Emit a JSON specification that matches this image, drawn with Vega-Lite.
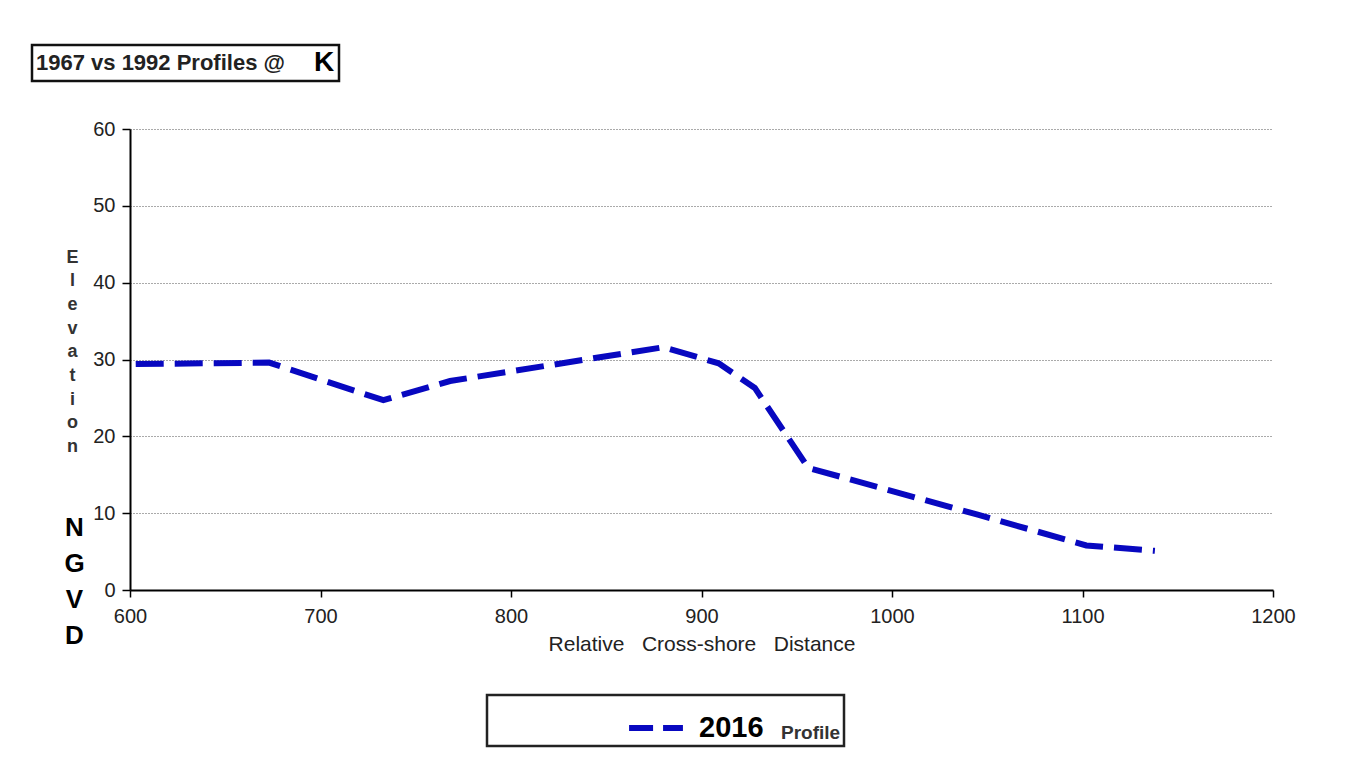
{
  "$schema": "https://vega.github.io/schema/vega-lite/v6.json",
  "width": 1143,
  "height": 461,
  "autosize": {"type": "none"},
  "padding": {"left": 130, "top": 129, "right": 72, "bottom": 182},
  "background": "white",
  "config": {"view": {"stroke": null}, "font": "Liberation Sans", "legend": {"strokeWidth": 2.5}},
  "data": {"values": [
    {"distance": 603, "elevation": 29.4, "year": "2016", "station": "K"},
    {"distance": 673, "elevation": 29.6, "year": "2016", "station": "K"},
    {"distance": 733, "elevation": 24.7, "year": "2016", "station": "K"},
    {"distance": 768, "elevation": 27.2, "year": "2016", "station": "K"},
    {"distance": 880, "elevation": 31.6, "year": "2016", "station": "K"},
    {"distance": 909, "elevation": 29.5, "year": "2016", "station": "K"},
    {"distance": 928, "elevation": 26.3, "year": "2016", "station": "K"},
    {"distance": 956, "elevation": 15.9, "year": "2016", "station": "K"},
    {"distance": 1045, "elevation": 9.8, "year": "2016", "station": "K"},
    {"distance": 1102, "elevation": 5.8, "year": "2016", "station": "K"},
    {"distance": 1138, "elevation": 5.1, "year": "2016", "station": "K"}
  ]},
  "layer": [
    {
      "mark": {"type": "line", "strokeWidth": 6, "strokeDash": [28, 11], "strokeCap": "butt"},
      "encoding": {
        "x": {"field": "distance", "type": "quantitative",
          "scale": {"domain": [600, 1200], "nice": false, "zero": false},
          "axis": {"values": [600, 700, 800, 900, 1000, 1100, 1200], "grid": false, "format": "d",
            "labelFlush": false, "labelOverlap": false,
            "domainColor": "black", "domainWidth": 2, "tickColor": "black", "tickSize": 7, "tickWidth": 1.5,
            "labelFontSize": 20, "labelColor": "#222", "labelPadding": 9,
            "title": "Relative\u00a0\u00a0 Cross-shore\u00a0\u00a0 Distance", "titleFontSize": 21, "titleFontWeight": "normal",
            "titleColor": "#222", "titlePadding": 7}},
        "y": {"field": "elevation", "type": "quantitative",
          "scale": {"domain": [0, 60], "nice": false},
          "axis": {"values": [0, 10, 20, 30, 40, 50, 60], "grid": true, "gridDash": [1, 2], "gridColor": "#555", "gridWidth": 1,
            "domainColor": "black", "domainWidth": 2, "tickColor": "black", "tickWidth": 1.5, "tickSize": 8,
            "labelFontSize": 20, "labelColor": "#222", "labelPadding": 7,
            "title": ["E", "l", "e", "v", "a", "t", "i", "o", "n"], "titleAngle": 0, "titleX": -58, "titleY": 119,
            "titleAlign": "center", "titleBaseline": "top", "titleFontSize": 18, "titleFontWeight": "bold",
            "titleColor": "#333", "titleLineHeight": 23.7}},
        "color": {"field": "year", "type": "nominal", "scale": {"range": ["#0808c0"]},
          "legend": {"title": "Profile\u00a0\u00a0", "titleOrient": "right", "titleAnchor": "end", "titleBaseline": "bottom",
            "titleFontSize": 19, "titleFontWeight": "bold",
            "titleColor": "#333", "labelFontSize": 29, "labelFontWeight": "bold", "labelColor": "black",
            "orient": "none", "legendX": 357, "legendY": 566, "strokeColor": "#222",
            "fillColor": "white", "padding": 3, "symbolType": "stroke", "symbolStrokeWidth": 6, "symbolSize": 2900,
            "symbolDash": [24, 10], "symbolOffset": 136, "labelOffset": 13, "titlePadding": 17}}
      }
    },
    {
      "mark": {"type": "point", "opacity": 0},
      "encoding": {
        "x": {"field": "distance", "type": "quantitative"},
        "y": {"field": "elevation", "type": "quantitative",
          "axis": {"orient": "left", "labels": false, "ticks": false, "domain": false, "grid": false,
            "title": ["N", "G", "V", "D"], "titleAngle": 0, "titleX": -56, "titleY": 385,
            "titleAlign": "center", "titleBaseline": "top", "titleFontSize": 26, "titleFontWeight": "bold",
            "titleColor": "black", "titleLineHeight": 36}},
        "shape": {"field": "station", "type": "nominal",
          "legend": {"title": "1967  vs  1992  Profiles  @", "titleOrient": "left", "titleFontSize": 22, "titleLimit": 1000,
            "titleFontWeight": "bold", "titleColor": "#222", "labelFontSize": 28, "labelFontWeight": "bold",
            "labelColor": "black", "orient": "none", "legendX": -98, "legendY": -84, "strokeColor": "#111",
            "fillColor": "white", "padding": 4, "symbolOpacity": 0, "symbolStrokeColor": "transparent",
            "symbolSize": 1, "labelOffset": -34, "titlePadding": 10}}
      }
    }
  ],
  "resolve": {"axis": {"y": "independent"}}
}
